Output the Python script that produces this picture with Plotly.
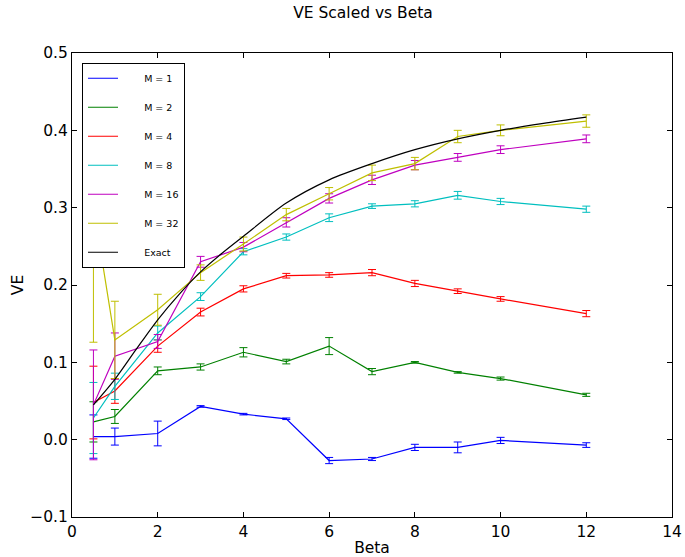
import plotly.graph_objects as go

# ---- data ----
beta = [0.5, 1, 2, 3, 4, 5, 6, 7, 8, 9, 10, 12]

ve_m1 = [0.004, 0.004, 0.008, 0.043, 0.033, 0.027, -0.027, -0.025, -0.010, -0.010, -0.001, -0.007]
err_m1 = [0.028, 0.011, 0.016, 0.001, 0.001, 0.001, 0.004, 0.002, 0.004, 0.007, 0.004, 0.003]

ve_m2 = [0.023, 0.030, 0.089, 0.094, 0.113, 0.101, 0.121, 0.088, 0.100, 0.087, 0.079, 0.058]
err_m2 = [0.026, 0.009, 0.005, 0.004, 0.006, 0.003, 0.011, 0.004, 0.001, 0.001, 0.002, 0.002]

ve_m4 = [0.048, 0.063, 0.121, 0.165, 0.195, 0.212, 0.213, 0.216, 0.202, 0.192, 0.182, 0.163]
err_m4 = [0.047, 0.016, 0.008, 0.005, 0.004, 0.003, 0.003, 0.004, 0.004, 0.003, 0.003, 0.004]

ve_m8 = [0.028, 0.069, 0.138, 0.185, 0.243, 0.262, 0.287, 0.302, 0.305, 0.316, 0.308, 0.298]
err_m8 = [0.046, 0.017, 0.009, 0.005, 0.004, 0.004, 0.005, 0.003, 0.004, 0.005, 0.004, 0.004]

ve_m16 = [0.045, 0.108, 0.127, 0.230, 0.249, 0.281, 0.312, 0.336, 0.355, 0.365, 0.375, 0.389]
err_m16 = [0.071, 0.030, 0.009, 0.007, 0.006, 0.006, 0.006, 0.006, 0.006, 0.005, 0.005, 0.005]

ve_m32 = [0.302, 0.129, 0.168, 0.216, 0.253, 0.291, 0.318, 0.345, 0.357, 0.392, 0.400, 0.412]
err_m32 = [0.176, 0.050, 0.020, 0.010, 0.009, 0.008, 0.008, 0.010, 0.008, 0.008, 0.007, 0.008]

beta_exact = [0.5, 1, 1.5, 2, 2.5, 3, 3.5, 4, 5, 6, 7, 8, 9, 10, 11, 12]
ve_exact = [0.045, 0.078, 0.117, 0.155, 0.188, 0.217, 0.241, 0.263, 0.306, 0.336, 0.357, 0.375, 0.389, 0.400, 0.409, 0.417]

labels = ["M = 1", "M = 2", "M = 4", "M = 8", "M = 16", "M = 32", "Exact"]
colors = ["#0000ff", "#008000", "#ff0000", "#00bfbf", "#bf00bf", "#bfbf00", "#000000"]

series = [(ve_m1, err_m1), (ve_m2, err_m2), (ve_m4, err_m4), (ve_m8, err_m8),
          (ve_m16, err_m16), (ve_m32, err_m32)]

NB = "\u00a0"
fig = go.Figure()
for i, (vals, errs) in enumerate(series):
    fig.add_trace(go.Scatter(
        x=beta, y=vals, mode="lines",
        line=dict(color=colors[i], width=1.2),
        error_y=dict(type="data", array=errs, visible=True, color=colors[i], thickness=1, width=4),
        name=NB * 7 + labels[i], legendgroup=labels[i],
    ))
fig.add_trace(go.Scatter(
    x=beta_exact, y=ve_exact, mode="lines",
    line=dict(color=colors[6], width=1.2, shape="spline", smoothing=0.8),
    name=NB * 7 + labels[6], legendgroup=labels[6],
))

FS = 15.5
axis_common = dict(
    showline=True, linecolor="black", linewidth=1, mirror="ticks",
    ticks="inside", ticklen=5, tickcolor="black", tickwidth=1,
    showgrid=False, zeroline=False, automargin=False,
    tickfont=dict(size=FS, color="black", family="DejaVu Sans"),
)

fig.update_layout(
    width=685, height=557,
    margin=dict(l=72, r=13, t=53, b=40),
    paper_bgcolor="white", plot_bgcolor="white",
    font=dict(family="DejaVu Sans", color="black", size=FS),
    title=dict(text="VE Scaled vs Beta", x=363 / 685, xref="container", xanchor="center",
               y=1 - 13 / 557, yanchor="middle", font=dict(size=FS)),
    xaxis=dict(range=[0, 14], dtick=2, tick0=0,
               title=dict(text="Beta", font=dict(size=FS), standoff=10), **axis_common),
    yaxis=dict(range=[-0.1, 0.5], dtick=0.1, tick0=0, tickformat=".1f",
               title=dict(text="VE", font=dict(size=FS), standoff=2), **axis_common),
    legend=dict(x=(82 - 72) / 600, y=0.979, xanchor="left", yanchor="top",
                bgcolor="white", bordercolor="black", borderwidth=1,
                font=dict(size=9.5, family="DejaVu Sans"),
                traceorder="grouped", tracegroupgap=10),
    showlegend=True,
)

fig.write_html("out.html", config={"displayModeBar": False},
               post_script="document.body.style.margin='0';")
